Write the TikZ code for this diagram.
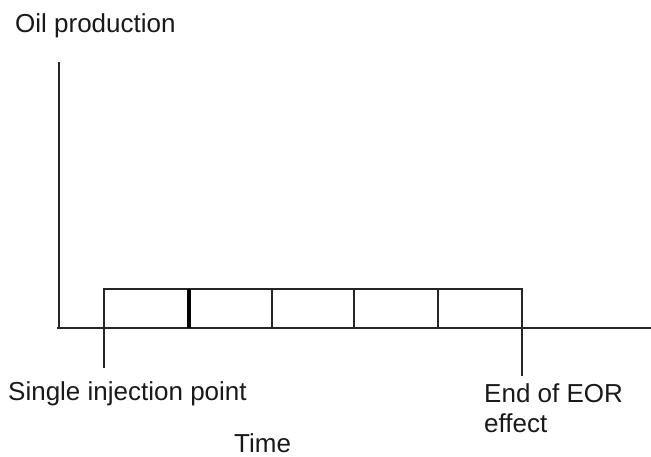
\documentclass[tikz,border=0pt]{standalone}
\usepackage{fontspec}
\setmainfont{Liberation Sans}
\begin{document}
\begin{tikzpicture}[x=1pt,y=-1pt,
  axis/.style={line width=2pt, draw=black!85},
  cell/.style={line width=2pt, draw=black!85},
  thickcell/.style={line width=3.8pt, draw=black},
  lbl/.style={anchor=base west, inner sep=0pt, text=black!90, font=\fontsize{26}{30}\selectfont}]
\useasboundingbox (0,0) rectangle (651,457);
% axes
\coordinate (ytop) at (59,62);
\coordinate (ybot) at (59,328);
\coordinate (xl) at (57,328);
\coordinate (xr) at (651,328);
\draw[axis] (ybot) -- (ytop);
\draw[axis] (xl) -- (xr);
% cells
\coordinate (t0) at (104,289);
\coordinate (t1) at (189,289);
\coordinate (t2) at (272,289);
\coordinate (t3) at (354,289);
\coordinate (t4) at (438,289);
\coordinate (t5) at (521.5,289);
\coordinate (a0) at (104,328);
\coordinate (a1) at (189,328);
\coordinate (a2) at (272,328);
\coordinate (a3) at (354,328);
\coordinate (a4) at (438,328);
\coordinate (a5) at (521.5,328);
\draw[cell] (a0) -- (t0) -- (t5) -- (a5);
\draw[thickcell] (t1) -- (a1);
\draw[cell] (t2) -- (a2);
\draw[cell] (t3) -- (a3);
\draw[cell] (t4) -- (a4);
% ticks
\coordinate (s0) at (104,368);
\coordinate (s5) at (521.5,376);
\draw[axis] (a0) -- (s0);
\draw[axis] (a5) -- (s5);
% labels
\node[lbl] (ylab) at (15,33) {Oil production};
\node[lbl] (inj) at (8,400) {Single injection point};
\node[lbl] (eor1) at (484,402) {End of EOR};
\node[lbl] (eor2) at (484,432) {effect};
\node[lbl] (xlab) at (234,452) {Time};
\end{tikzpicture}
\end{document}
